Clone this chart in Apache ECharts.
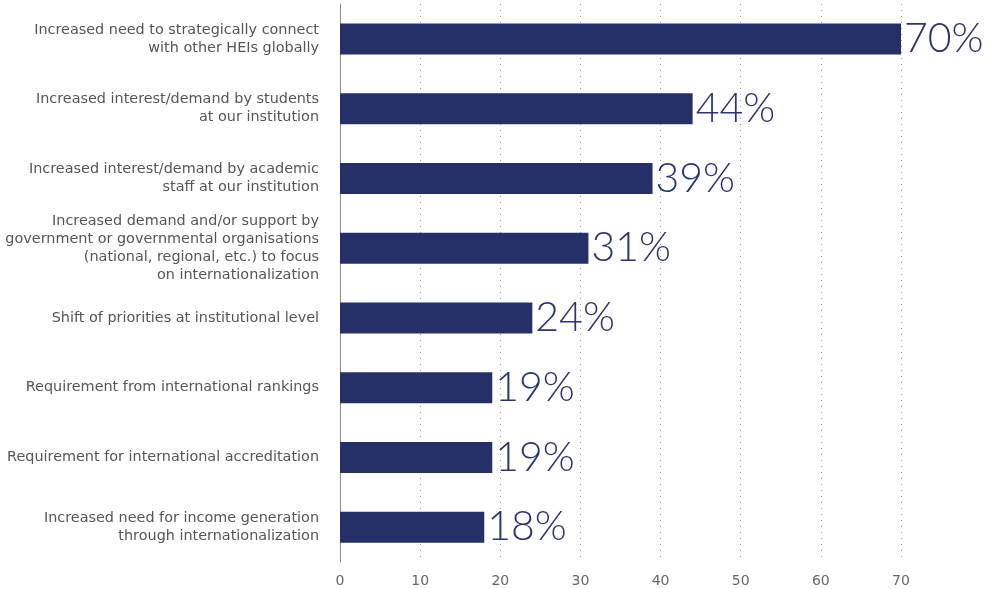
<!DOCTYPE html>
<html>
<head>
<meta charset="utf-8">
<script src="https://cdn.jsdelivr.net/npm/echarts@6/dist/echarts.min.js"></script>
<style>
  html, body { margin: 0; padding: 0; background: #fff; }
  #chart { width: 989px; height: 589px; }
</style>
</head>
<body>
<div id="chart"></div>
<script>
// Drivers of internationalization, share of respondents (%)
const categories = [
  'Increased need to strategically connect\nwith other HEIs globally',
  'Increased interest/demand by students\nat our institution',
  'Increased interest/demand by academic\nstaff at our institution',
  'Increased demand and/or support by\ngovernment or governmental organisations\n(national, regional, etc.) to focus\non internationalization',
  'Shift of priorities at institutional level',
  'Requirement from international rankings',
  'Requirement for international accreditation',
  'Increased need for income generation\nthrough internationalization'
];
const values = [70, 44, 39, 31, 24, 19, 19, 18];
const tickValues = [0, 10, 20, 30, 40, 50, 60, 70];

const navy = '#253069';

const chart = echarts.init(document.getElementById('chart'), null, { renderer: 'canvas' });
chart.setOption({
  animation: false,
  backgroundColor: '#ffffff',
  grid: { left: 340, right: 88, top: 4, bottom: 27, containLabel: false },
  xAxis: {
    type: 'value',
    min: tickValues[0],
    max: tickValues[tickValues.length - 1],
    interval: tickValues[1] - tickValues[0],
    axisLine: { show: false },
    axisTick: { show: false },
    axisLabel: {
      color: '#666',
      fontFamily: 'DejaVu Sans, sans-serif',
      fontSize: 14,
      margin: 12
    },
    splitLine: {
      show: true,
      lineStyle: { color: '#9a9a9a', width: 1, type: [1, 5] }
    }
  },
  yAxis: {
    type: 'category',
    data: categories,
    inverse: true,
    axisLine: { show: true, lineStyle: { color: '#8a8a8a', width: 1 } },
    axisTick: { show: false },
    axisLabel: {
      color: '#555',
      fontFamily: 'DejaVu Sans, sans-serif',
      fontSize: 14.4,
      lineHeight: 18,
      margin: 21,
      align: 'right'
    },
    splitLine: { show: false }
  },
  series: [{
    type: 'bar',
    data: values,
    barWidth: 31,
    itemStyle: { color: navy },
    label: {
      show: true,
      position: 'right',
      distance: 3,
      formatter: p => p.value + '%',
      color: '#2a3470',
      fontFamily: 'Lato, sans-serif',
      fontWeight: 300,
      fontSize: 41
    }
  }]
});
</script>
</body>
</html>
